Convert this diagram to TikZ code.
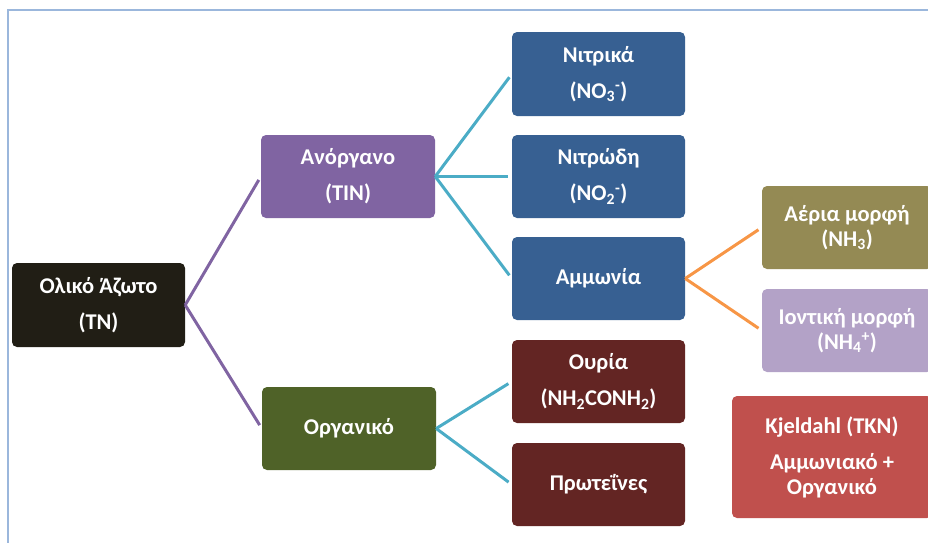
\documentclass[tikz,border=0pt]{standalone}
\usepackage{fontspec}
\setmainfont{Carlito}
\definecolor{cTN}{HTML}{211E15}
\definecolor{cPur}{HTML}{8064A2}
\definecolor{cGrn}{HTML}{4F6228}
\definecolor{cBlu}{HTML}{376092}
\definecolor{cDRd}{HTML}{632523}
\definecolor{cOlv}{HTML}{948A54}
\definecolor{cLav}{HTML}{B3A2C7}
\definecolor{cRed}{HTML}{C0504D}
\definecolor{cCyan}{HTML}{4BACC6}
\definecolor{cOrg}{HTML}{F79646}
\definecolor{cFrame}{HTML}{9BB7DC}
\tikzset{
  box/.style={rectangle, rounded corners=5pt, draw=none, text=white,
    font=\fontsize{22.5}{25}\selectfont\bfseries, align=center, inner sep=0pt},
  link/.style={line width=3pt, shorten >=4pt},
}
\begin{document}
\begin{tikzpicture}[x=1pt,y=-1pt]
\useasboundingbox (0,0) rectangle (928,542);
\begin{scope}
\clip (0,0) rectangle (928,542);
\draw[cFrame, line width=2pt] (8,10) rectangle (960,580);
\end{scope}
\node[box, fill=cTN, minimum width=173pt, minimum height=84pt] (tn) at (98.5,305) {Ολικό Άζωτο\\[11pt](TN)};
\node[box, fill=cPur, minimum width=174pt, minimum height=83pt] (ano) at (348,176.5) {Ανόργανο\\[11pt](TIN)};
\node[box, fill=cGrn, minimum width=174pt, minimum height=83pt] (org) at (349,428.5) {Οργανικό};
\node[box, fill=cBlu, minimum width=173pt, minimum height=84pt] (no3) at (598.5,74) {Νιτρικά\\[11pt](NO\textsubscript{3}\textsuperscript{-})};
\node[box, fill=cBlu, minimum width=173pt, minimum height=83pt] (no2) at (598.5,176.5) {Νιτρώδη\\[11pt](NO\textsubscript{2}\textsuperscript{-})};
\node[box, fill=cBlu, minimum width=173pt, minimum height=83pt] (nh) at (598.5,278.5) {Αμμωνία};
\node[box, fill=cDRd, minimum width=173pt, minimum height=83pt] (ure) at (598.5,381.5) {Ουρία\\[11pt](NH\textsubscript{2}CONH\textsubscript{2})};
\node[box, fill=cDRd, minimum width=173pt, minimum height=83pt] (pro) at (598.5,484.5) {Πρωτεΐνες};
\node[box, fill=cOlv, minimum width=170pt, minimum height=83pt] (gas) at (847,227.5) {Αέρια μορφή\\(NH\textsubscript{3})};
\node[box, fill=cLav, minimum width=170pt, minimum height=83pt] (ion) at (847,330.5) {Ιοντική μορφή\\(NH\textsubscript{4}\textsuperscript{+})};
\node[box, fill=cRed, minimum width=200pt, minimum height=122pt] (kj) at (832,457) {Kjeldahl (TKN)\\[11pt]Αμμωνιακό +\\Οργανικό};
\draw[link, cPur] (tn.east) -- (ano.west);
\draw[link, cPur] (tn.east) -- (org.west);
\draw[link, cCyan] (ano.east) -- (no3.west);
\draw[link, cCyan] (ano.east) -- (no2.west);
\draw[link, cCyan] (ano.east) -- (nh.west);
\draw[link, cCyan] (org.east) -- (ure.west);
\draw[link, cCyan] (org.east) -- (pro.west);
\draw[link, cOrg] (nh.east) -- (gas.west);
\draw[link, cOrg] (nh.east) -- (ion.west);
\end{tikzpicture}
\end{document}
